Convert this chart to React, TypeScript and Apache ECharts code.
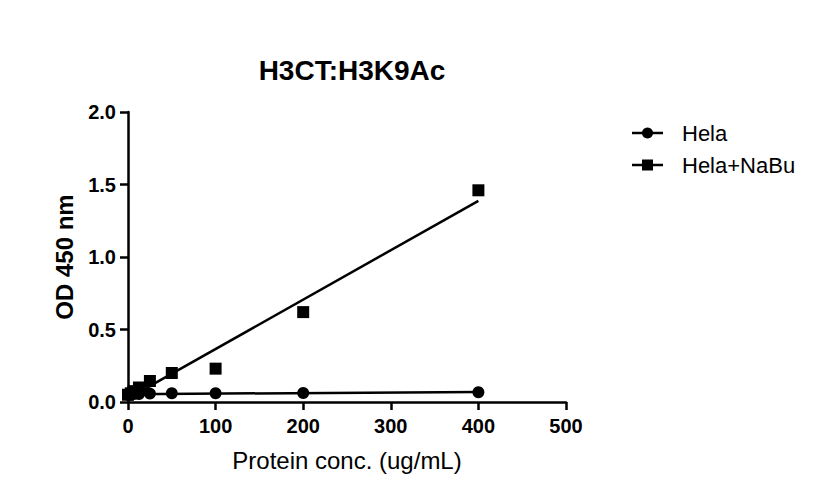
import React, { useEffect, useRef } from "react";
import * as echarts from "echarts";

const concentrations = [0, 3.125, 6.25, 12.5, 25, 50, 100, 200, 400];
const helaValues = [0.05, 0.05, 0.055, 0.055, 0.058, 0.06, 0.06, 0.062, 0.067];
const helaNaBuValues = [0.05, 0.06, 0.075, 0.1, 0.145, 0.2, 0.23, 0.62, 1.46];
const seriesNames = ["Hela", "Hela+NaBu"];
const xTicks = [0, 100, 200, 300, 400, 500];
const yTicks = [0, 0.5, 1.0, 1.5, 2.0];

function fit(xs: number[], ys: number[]) {
  const n = xs.length;
  const mx = xs.reduce((a, b) => a + b, 0) / n;
  const my = ys.reduce((a, b) => a + b, 0) / n;
  let sxy = 0, sxx = 0;
  for (let i = 0; i < n; i++) {
    sxy += (xs[i] - mx) * (ys[i] - my);
    sxx += (xs[i] - mx) ** 2;
  }
  const slope = sxy / sxx;
  const b = my - slope * mx;
  const x0 = Math.min(...xs), x1 = Math.max(...xs);
  return [[x0, b + slope * x0], [x1, b + slope * x1]];
}

export default function App() {
  const ref = useRef<HTMLDivElement>(null);
  useEffect(() => {
    if (!ref.current) return;
    const chart = echarts.init(ref.current, null, { renderer: "svg" });
    const font = "'Liberation Sans', Arial, sans-serif";
    const pts = (ys: number[]) => concentrations.map((x, i) => [x, ys[i]]);
    chart.setOption({
      animation: false,
      backgroundColor: "#ffffff",
      title: {
        text: "H3CT:H3K9Ac",
        left: 347,
        textAlign: "center",
        top: 51,
        textStyle: { fontFamily: font, fontSize: 28, fontWeight: "bold", color: "#000" },
      },
      grid: { left: 128, right: 252, top: 112, bottom: 94, containLabel: false },
      xAxis: {
        type: "value",
        min: xTicks[0],
        max: xTicks[xTicks.length - 1],
        interval: 100,
        name: "Protein conc. (ug/mL)",
        nameLocation: "middle",
        nameGap: 46,
        nameTextStyle: { fontFamily: font, fontSize: 24, color: "#000" },
        axisLine: { lineStyle: { color: "#000", width: 2.5 } },
        axisTick: { length: 8, lineStyle: { color: "#000", width: 2.5 } },
        axisLabel: { fontFamily: font, fontSize: 20, fontWeight: "bold", color: "#000", margin: 14 },
        splitLine: { show: false },
      },
      yAxis: {
        type: "value",
        min: yTicks[0],
        max: yTicks[yTicks.length - 1],
        interval: 0.5,
        name: "OD 450 nm",
        nameLocation: "middle",
        nameGap: 52,
        nameTextStyle: { fontFamily: font, fontSize: 24, fontWeight: "bold", color: "#000" },
        axisLine: { lineStyle: { color: "#000", width: 2.5 } },
        axisTick: { length: 8, lineStyle: { color: "#000", width: 2.5 } },
        axisLabel: {
          fontFamily: font, fontSize: 20, fontWeight: "bold", color: "#000", margin: 12,
          formatter: (v: number) => v.toFixed(1),
        },
        splitLine: { show: false },
      },
      series: [
        {
          name: seriesNames[0] + " fit",
          type: "line",
          data: fit(concentrations, helaValues),
          symbol: "none",
          lineStyle: { color: "#000", width: 2.5 },
          z: 2,
        },
        {
          name: seriesNames[1] + " fit",
          type: "line",
          data: fit(concentrations, helaNaBuValues),
          symbol: "none",
          lineStyle: { color: "#000", width: 2.5 },
          z: 2,
        },
        {
          name: seriesNames[0],
          type: "scatter",
          data: pts(helaValues),
          symbol: "circle",
          symbolSize: 12,
          itemStyle: { color: "#000", opacity: 1 },
          z: 3,
        },
        {
          name: seriesNames[1],
          type: "scatter",
          data: pts(helaNaBuValues),
          symbol: "rect",
          symbolSize: 12,
          itemStyle: { color: "#000", opacity: 1 },
          z: 3,
        },
      ],
      graphic: [
        { type: "line", shape: { x1: 632, y1: 133, x2: 663, y2: 133 }, style: { stroke: "#000", lineWidth: 2.5 } },
        { type: "circle", shape: { cx: 647.5, cy: 133, r: 5.5 }, style: { fill: "#000" } },
        { type: "text", x: 682, y: 133, style: { text: seriesNames[0], fontFamily: font, fontSize: 22, fill: "#000", verticalAlign: "middle" } },
        { type: "line", shape: { x1: 632, y1: 165, x2: 663, y2: 165 }, style: { stroke: "#000", lineWidth: 2.5 } },
        { type: "rect", shape: { x: 642, y: 159.5, width: 11, height: 11 }, style: { fill: "#000" } },
        { type: "text", x: 682, y: 165, style: { text: seriesNames[1], fontFamily: font, fontSize: 22, fill: "#000", verticalAlign: "middle" } },
      ],
    });
    return () => chart.dispose();
  }, []);
  return (
    <div
      ref={ref}
      style={{ position: "fixed", left: 0, top: 0, width: 818, height: 496 }}
    />
  );
}
